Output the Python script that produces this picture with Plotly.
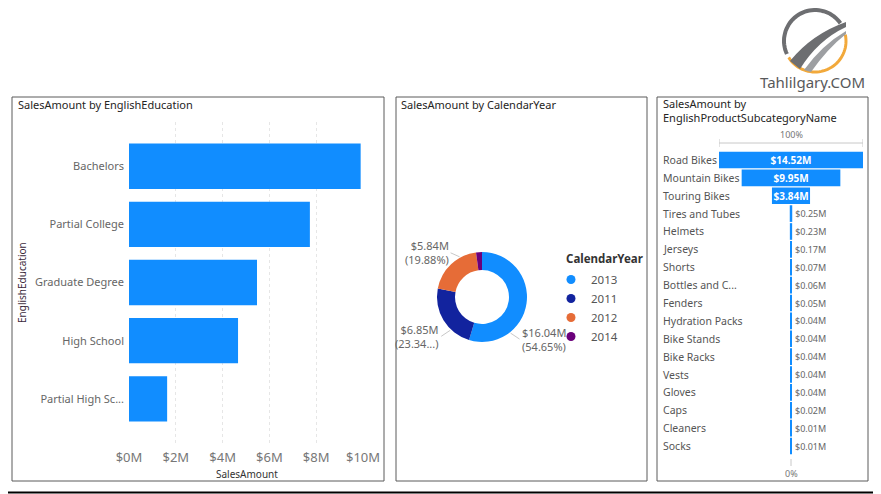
import numpy as np
import plotly.graph_objects as go

# the page puts the figure 8px in from the top-left corner, so work in page pixels
OFF = 8
PAGE_W, PAGE_H = 881, 494
W, H = PAGE_W - OFF, PAGE_H - OFF
FONT = "Noto Sans"


def px(x):
    return (x - OFF) / W


def py(y):
    return 1 - (y - OFF) / H


def shorten(name, maxlen, keep):
    return name if len(name) <= maxlen else name[:keep] + "..."


# --- data ---
edu_levels = ["Bachelors", "Partial College", "Graduate Degree", "High School", "Partial High School"]
edu_sales_m = [9.90, 7.73, 5.47, 4.66, 1.63]

years = ["2013", "2011", "2012", "2014"]
year_sales_m = [16.043, 6.851, 5.836, 0.625]
year_colors = ["#118DFF", "#12239E", "#E66C37", "#6B007B"]

subcats = ["Road Bikes", "Mountain Bikes", "Touring Bikes", "Tires and Tubes", "Helmets", "Jerseys",
           "Shorts", "Bottles and Cages", "Fenders", "Hydration Packs", "Bike Stands", "Bike Racks",
           "Vests", "Gloves", "Caps", "Cleaners", "Socks"]
subcat_sales_m = [14.52, 9.95, 3.84, 0.25, 0.23, 0.17, 0.07, 0.06, 0.05, 0.04, 0.04, 0.04,
                  0.04, 0.04, 0.02, 0.01, 0.01]

BLUE = "#118DFF"
fig = go.Figure()

# --- panel 1: horizontal bars ---
fig.add_trace(go.Bar(
    x=edu_sales_m, y=list(range(len(edu_levels))), orientation="h",
    marker=dict(color=BLUE, line=dict(width=0)),
    xaxis="x", yaxis="y", showlegend=False, hoverinfo="x",
))

# --- panel 2: donut (centre / radius in page pixels) ---
PIE_CX, PIE_CY, PIE_R = 482, 297, 45
fig.add_trace(go.Pie(
    labels=years, values=year_sales_m, sort=False, direction="clockwise", rotation=0,
    hole=0.6, marker=dict(colors=year_colors, line=dict(width=0)),
    textinfo="none",
    domain=dict(x=[px(PIE_CX - PIE_R), px(PIE_CX + PIE_R)], y=[py(PIE_CY + PIE_R), py(PIE_CY - PIE_R)]),
    showlegend=False,
))
for yr, col in zip(years, year_colors):
    fig.add_trace(go.Scatter(
        x=[None], y=[None], mode="markers", name=yr,
        marker=dict(color=col, size=9, symbol="circle"),
        xaxis="x4", yaxis="y4",
    ))

# --- panel 3: funnel ---
n_sub = len(subcats)
text_pos = ["inside" if v > 1 else "outside" for v in subcat_sales_m]
fig.add_trace(go.Funnel(
    x=subcat_sales_m, y=list(range(n_sub)),
    marker=dict(color=BLUE, line=dict(width=0)),
    connector=dict(visible=False),
    texttemplate="$%{x:.2f}M", textposition=text_pos, constraintext="none",
    insidetextfont=dict(family=FONT, size=10, color="white", weight="bold"),
    outsidetextfont=dict(family=FONT, size=9, color="#666666"),
    xaxis="x3", yaxis="y3", showlegend=False,
))

half = max(subcat_sales_m) / 2

# --- decorations ---
shapes = []
for x0, y0, x1, y1 in [(12, 97, 384, 481), (396, 97, 647, 481), (657, 97, 868, 481)]:
    shapes.append(dict(type="rect", xref="x4", yref="y4", x0=x0, y0=y0, x1=x1, y1=y1,
                       line=dict(color="#5a5a5a", width=1)))
shapes.append(dict(type="rect", xref="x4", yref="y4", x0=1, y0=1, x1=879.5, y1=492.5,
                   line=dict(color="black", width=2)))

# funnel scale lines
shapes.append(dict(type="line", xref="x3", yref="y4", x0=-half, x1=half, y0=143, y1=143,
                   line=dict(color="#c8c8c8", width=1)))
for xe in (-half, half):
    shapes.append(dict(type="line", xref="x3", yref="y4", x0=xe, x1=xe, y0=139, y1=147,
                       line=dict(color="#c8c8c8", width=1)))
shapes.append(dict(type="line", xref="x3", yref="y4", x0=0, x1=0, y0=459, y1=466,
                   line=dict(color="#c8c8c8", width=1)))

# logo
cx, cy, r = 815, 41, 31


def arc(a0, a1):
    t = np.radians(np.linspace(a0, a1, 40))
    pts = [f"{cx + r * np.cos(a):.1f},{cy - r * np.sin(a):.1f}" for a in t]
    return "M " + " L ".join(pts)


shapes.append(dict(type="path", xref="x4", yref="y4", path=arc(35, 205),
                   line=dict(color="#6d6e71", width=4)))
shapes.append(dict(type="path", xref="x4", yref="y4", path=arc(212, 372),
                   line=dict(color="#f2a93b", width=3)))
shapes.append(dict(type="path", xref="x4", yref="y4",
                   path="M 790 61 Q 812 34 846 22 L 846 27 Q 818 40 800 69 Z",
                   fillcolor="#6d6e71", line=dict(width=0)))
shapes.append(dict(type="path", xref="x4", yref="y4",
                   path="M 804 70 Q 822 45 846 31 L 846 34 Q 828 48 811 72 Z",
                   fillcolor="#9d9fa2", line=dict(width=0)))

annotations = []


def label(x, y, text, size=11, color="#252423", anchor="left", **kw):
    annotations.append(dict(x=px(x), y=py(y), xref="paper", yref="paper", text=text,
                            showarrow=False, xanchor=anchor, yanchor="middle",
                            font=dict(family=FONT, size=size, color=color), **kw))


label(16, 104, "SalesAmount by EnglishEducation")
label(399, 104, "SalesAmount by CalendarYear")
label(661, 111, "SalesAmount by<br>EnglishProductSubcategoryName", align="left")
label(247, 474, "SalesAmount", size=10, color="#333333", anchor="center")
label(22, 283, "EnglishEducation", size=10, color="#3b2a3b", anchor="center", textangle=-90)
label(812, 82, "Tahlilgary.COM", size=15, color="#58595b", anchor="center")
label(564, 258, "<b>CalendarYear</b>", size=11.5, color="#333333")

# donut data labels with leader lines (the 2014 slice is left unlabelled, as in the reference)
total = sum(year_sales_m)
label_frac = [0.72, 0.32, 0.70, None]   # where along each slice the leader line starts
start = 0.0
for v, frac in zip(year_sales_m, label_frac):
    span = 360 * v / total
    if frac is not None:
        th = np.radians(start + frac * span)
        ex, ey = PIE_CX + (PIE_R + 1) * np.sin(th), PIE_CY - (PIE_R + 1) * np.cos(th)
        right = np.sin(th) > 0
        pct = f"{v / total:.2%}"
        if not right and th > np.pi and th < 1.4 * np.pi:
            pct = pct[:5] + "..."
        annotations.append(dict(
            x=ex, y=ey, xref="x4", yref="y4", text=f"${v:.2f}M<br>({pct})",
            showarrow=True, arrowhead=0, arrowwidth=1, arrowcolor="#c8c8c8", standoff=0,
            ax=9 if right else -9, ay=6 if np.cos(th) < 0 else -4,
            xanchor="left" if right else "right", align="left" if right else "right",
            font=dict(family=FONT, size=11, color="#666666"),
        ))
    start += span

annotations.append(dict(x=0, y=py(134), xref="x3", yref="paper", text="100%", showarrow=False,
                        xanchor="center", yanchor="middle",
                        font=dict(family=FONT, size=9, color="#777777")))
annotations.append(dict(x=0, y=py(473), xref="x3", yref="paper", text="0%", showarrow=False,
                        xanchor="center", yanchor="middle",
                        font=dict(family=FONT, size=9, color="#777777")))
for i, name in enumerate(subcats):
    annotations.append(dict(x=px(661), y=i, xref="paper", yref="y3", text=shorten(name, 15, 13),
                            showarrow=False, xanchor="left", yanchor="middle",
                            font=dict(family=FONT, size=10.5, color="#555555")))

fig.update_layout(
    width=W, height=H, margin=dict(l=0, r=0, t=0, b=0, autoexpand=False),
    paper_bgcolor="white", plot_bgcolor="rgba(0,0,0,0)",
    font=dict(family=FONT),
    bargap=0.22, funnelgap=0.07,
    xaxis=dict(domain=[px(129), px(363)], range=[0, 10], dtick=2, tickprefix="$", ticksuffix="M",
               showgrid=True, gridcolor="#e6e6e6", griddash="dot", zeroline=False,
               ticklabelstandoff=5,
               tickfont=dict(family=FONT, size=13, color="#777777"), anchor="y"),
    yaxis=dict(domain=[py(443), py(122)], range=[len(edu_levels) - 0.24, -0.76],
               tickvals=list(range(len(edu_levels))),
               ticktext=[shorten(e, 15, 15) for e in edu_levels],
               showgrid=False, zeroline=False, ticklabelstandoff=4,
               tickfont=dict(family=FONT, size=11, color="#666666"), anchor="x"),
    xaxis3=dict(domain=[px(719), px(863)], range=[-half, half], visible=False, anchor="y3"),
    yaxis3=dict(domain=[py(455), py(151)], range=[n_sub - 0.5, -0.5], visible=False, anchor="x3"),
    xaxis4=dict(domain=[0, 1], range=[OFF, PAGE_W], visible=False, anchor="y4"),
    yaxis4=dict(domain=[0, 1], range=[PAGE_H, OFF], visible=False, anchor="x4"),
    legend=dict(x=px(551), y=py(265), xanchor="left", yanchor="top", bgcolor="rgba(0,0,0,0)",
                font=dict(family=FONT, size=11.5, color="#555555"), itemwidth=30, tracegroupgap=0),
    shapes=shapes, annotations=annotations,
)

fig.write_html("out.html")
